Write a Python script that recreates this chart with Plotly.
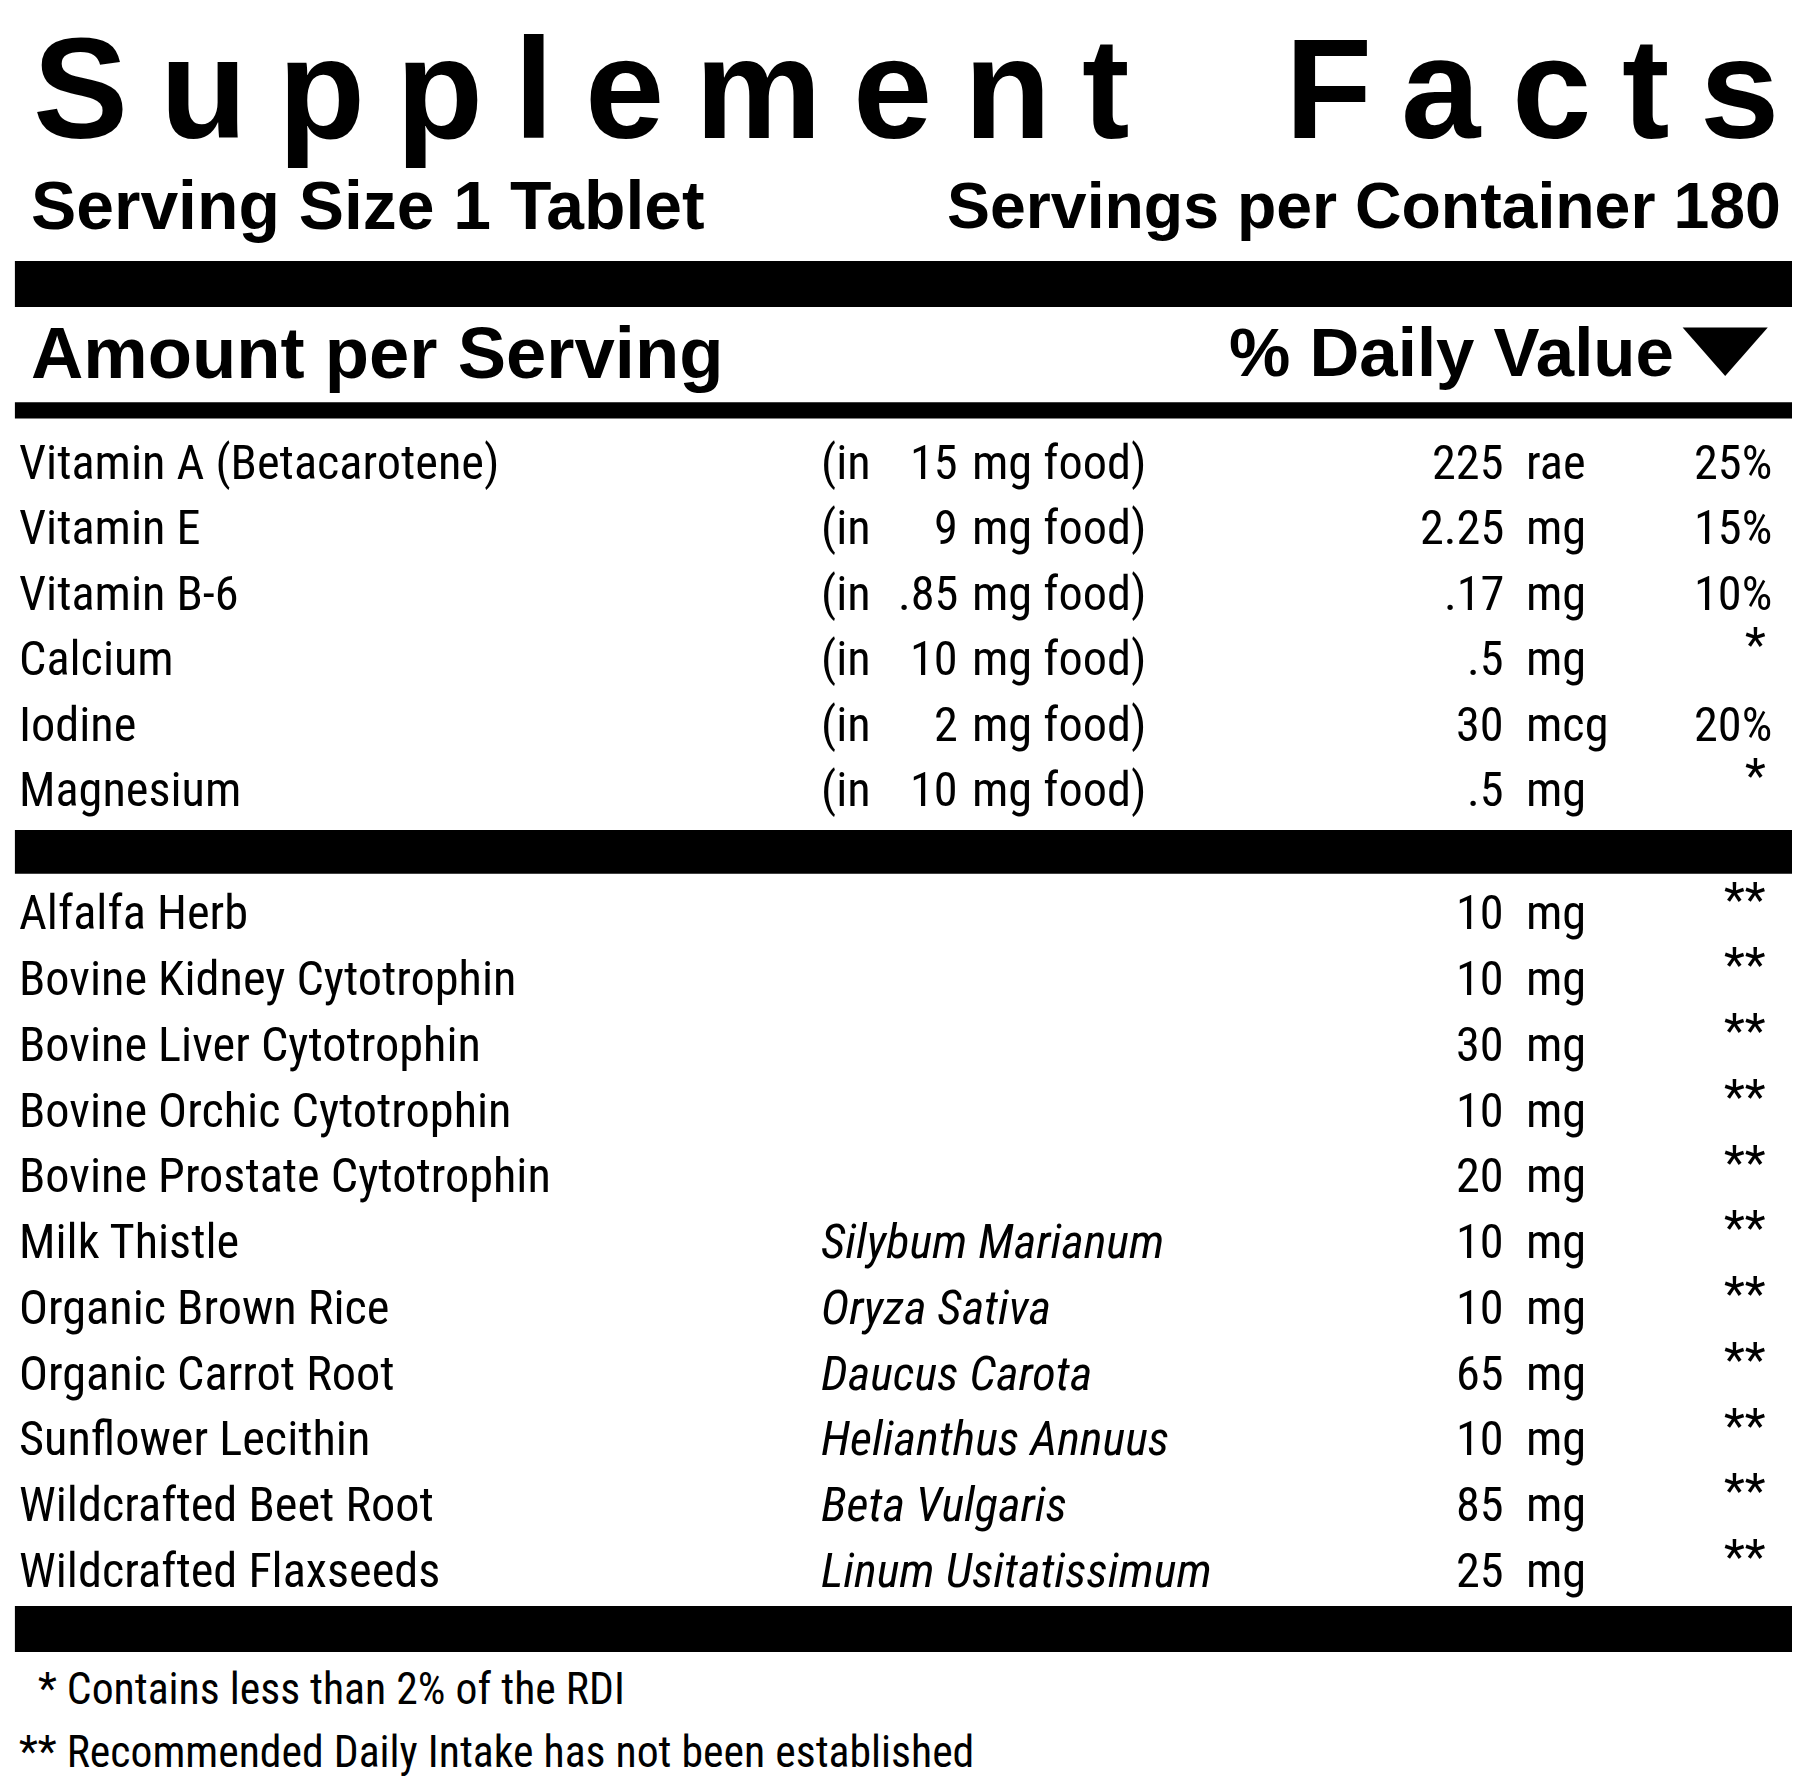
import plotly.graph_objects as go

# Data
title_words = ["Supplement", "Facts"]
serving_size = "Serving Size 1 Tablet"
servings = "Servings per Container 180"

vit_names = ["Vitamin A", "Vitamin E", "Vitamin B-6", "Calcium", "Iodine", "Magnesium"]
vit_notes = ["(Betacarotene)", "", "", "", "", ""]
vit_food = ["15", "9", ".85", "10", "2", "10"]
vit_amount = ["225", "2.25", ".17", ".5", "30", ".5"]
vit_unit = ["rae", "mg", "mg", "mg", "mcg", "mg"]
vit_dv = ["25%", "15%", "10%", "*", "20%", "*"]

herb_names = ["Alfalfa Herb", "Bovine Kidney Cytotrophin", "Bovine Liver Cytotrophin",
              "Bovine Orchic Cytotrophin", "Bovine Prostate Cytotrophin", "Milk Thistle",
              "Organic Brown Rice", "Organic Carrot Root", "Sunflower Lecithin",
              "Wildcrafted Beet Root", "Wildcrafted Flaxseeds"]
herb_latin = ["", "", "", "", "", "Silybum Marianum", "Oryza Sativa", "Daucus Carota",
              "Helianthus Annuus", "Beta Vulgaris", "Linum Usitatissimum"]
herb_amount = ["10", "10", "30", "10", "20", "10", "10", "65", "10", "85", "25"]
herb_unit = ["mg"] * 11
herb_dv = ["**"] * 11

footnotes = [" * Contains less than 2% of the RDI",
             "** Recommended Daily Intake has not been established"]

S = 1800 / 1565  # display units -> px
NARROW = "Liberation Sans Narrow, Roboto Condensed, Roboto"
BOLD = "Liberation Sans, Arial"

fig = go.Figure()
ann = []

def txt(x, y, t, size, anchor="left", family=NARROW, color="black", yanchor="middle"):
    ann.append(dict(x=x, y=y, text=t, showarrow=False, xanchor=anchor, yanchor=yanchor,
                    font=dict(family=family, size=size * S, color=color)))

# Title with wide letter spacing
widths = {"S": 667, "u": 611, "p": 611, "l": 278, "e": 556, "m": 889, "n": 611,
          "t": 333, "F": 611, "a": 556, "c": 556, "s": 556}
tsize = 124
for word, (x0, x1) in zip(title_words, [(22, 975), (1110, 1540)]):
    w = [widths[c] * tsize / 1000 for c in word]
    gap = (x1 - x0 - sum(w)) / (len(word) - 1)
    x = x0
    for c, cw in zip(word, w):
        txt(x + cw / 2, 70, "<b>%s</b>" % c, tsize, anchor="center", family=BOLD)
        x += cw + gap

txt(18, 172, "<b>%s</b>" % serving_size, 59, family=BOLD)
txt(1543, 172, "<b>%s</b>" % servings, 56, anchor="right", family=BOLD)
txt(18, 300, "<b>Amount per Serving</b>", 63, family=BOLD)
txt(1450, 300, "<b>% Daily Value</b>", 60, anchor="right", family=BOLD)

fs = 42
for i in range(len(vit_names)):
    y = 395 + 57 * i
    name = vit_names[i]
    if vit_notes[i]:
        name += " " + vit_notes[i]
    txt(8, y, name, fs)
    txt(705, y, "(in", fs)
    txt(828, y, vit_food[i], fs, anchor="right")
    txt(836, y, "mg food)", fs)
    txt(1302, y, vit_amount[i], fs, anchor="right")
    txt(1318, y, vit_unit[i], fs)
    if vit_dv[i].startswith("*"):
        txt(1530, y - 12, vit_dv[i], fs, anchor="right")
    else:
        txt(1535, y, vit_dv[i], fs, anchor="right")

for i in range(len(herb_names)):
    y = 787 + 57.2 * i
    txt(8, y, herb_names[i], fs)
    if herb_latin[i]:
        txt(705, y, "<i>%s</i>" % herb_latin[i], fs)
    txt(1302, y, herb_amount[i], fs, anchor="right")
    txt(1318, y, herb_unit[i], fs)
    txt(1530, y - 12, herb_dv[i], fs, anchor="right")

txt(16, 1462, footnotes[0], 38)
txt(8, 1517, footnotes[1], 38)

shapes = [
    dict(type="rect", x0=6, x1=1560, y0=220, y1=260),
    dict(type="rect", x0=6, x1=1560, y0=343, y1=357),
    dict(type="rect", x0=6, x1=1560, y0=715, y1=753),
    dict(type="rect", x0=6, x1=1560, y0=1390, y1=1430),
    dict(type="path", path="M 1456 278 L 1530 278 L 1493 320 Z"),
]
for s in shapes:
    s.update(fillcolor="black", line=dict(width=0), layer="below")

fig.update_layout(
    width=1800, height=1782,
    margin=dict(l=0, r=0, t=0, b=0),
    paper_bgcolor="white", plot_bgcolor="white",
    xaxis=dict(range=[0, 1565], visible=False, fixedrange=True),
    yaxis=dict(range=[1550, 0], visible=False, fixedrange=True),
    annotations=ann, shapes=shapes, showlegend=False,
)

fig.write_html("out.html")
